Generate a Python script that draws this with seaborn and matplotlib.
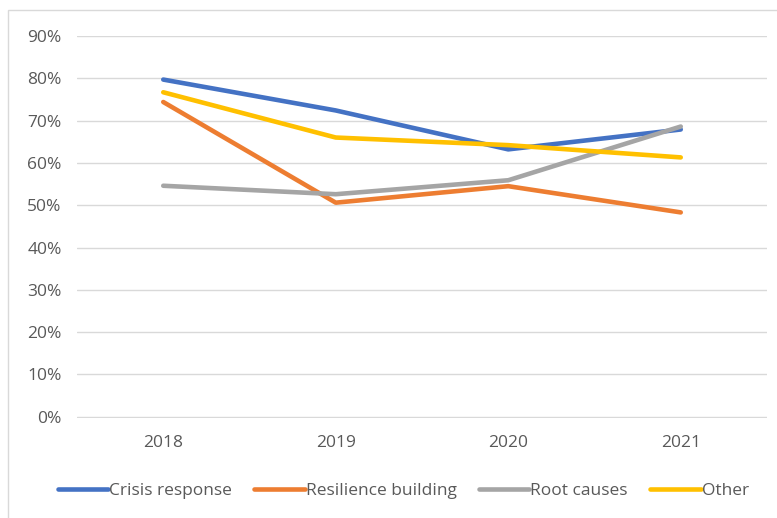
import numpy as np
import pandas as pd
import seaborn as sns
import matplotlib.pyplot as plt
from matplotlib.ticker import PercentFormatter

years = ["2018", "2019", "2020", "2021"]
crisis_response = [0.797, 0.724, 0.632, 0.679]
resilience_building = [0.744, 0.506, 0.545, 0.483]
root_causes = [0.546, 0.526, 0.559, 0.686]
other = [0.767, 0.660, 0.642, 0.613]

series = {
    "Crisis response": crisis_response,
    "Resilience building": resilience_building,
    "Root causes": root_causes,
    "Other": other,
}
colors = ["#4472C4", "#ED7D31", "#A5A5A5", "#FFC000"]

df = pd.DataFrame(
    [(name, yr, v) for name, vals in series.items() for yr, v in zip(years, vals)],
    columns=["series", "year", "value"],
)

sns.set_style("white")
plt.rcParams["font.family"] = ["Open Sans", "DejaVu Sans"]

fig = plt.figure(figsize=(7.77, 5.18), dpi=100)
ax = fig.add_axes([77 / 777, 100 / 518, 690 / 777, 382 / 518])

sns.lineplot(data=df, x="year", y="value", hue="series", palette=colors,
             linewidth=3.3, ax=ax, sort=False)

ax.set_xlim(-0.5, 3.5)
ax.set_ylim(-0.003, 0.9)
ax.set_yticks(np.arange(0, 0.91, 0.1))
ax.yaxis.set_major_formatter(PercentFormatter(1.0, decimals=0))
ax.grid(axis="y", color="#D9D9D9", linewidth=1)
ax.set_axisbelow(True)
for s in ax.spines.values():
    s.set_visible(False)
ax.set_xlabel("")
ax.set_ylabel("")
ax.tick_params(axis="both", length=0, labelsize=12.5, labelcolor="#595959")
ax.tick_params(axis="x", pad=12)
ax.tick_params(axis="y", pad=11)

ax.legend(loc="center", bbox_to_anchor=(0.519, 0.052),
          bbox_transform=fig.transFigure, ncol=4,
          frameon=False, fontsize=12.5, handlelength=2.9, handletextpad=0.05,
          columnspacing=1.3, labelcolor="#595959")

# outer chart border
fig.patches.append(plt.Rectangle((8 / 777, -5 / 518), 800 / 777, 513 / 518,
                                 transform=fig.transFigure, fill=False,
                                 edgecolor="#D9D9D9", linewidth=1))

fig.savefig("out.png", dpi=100)
